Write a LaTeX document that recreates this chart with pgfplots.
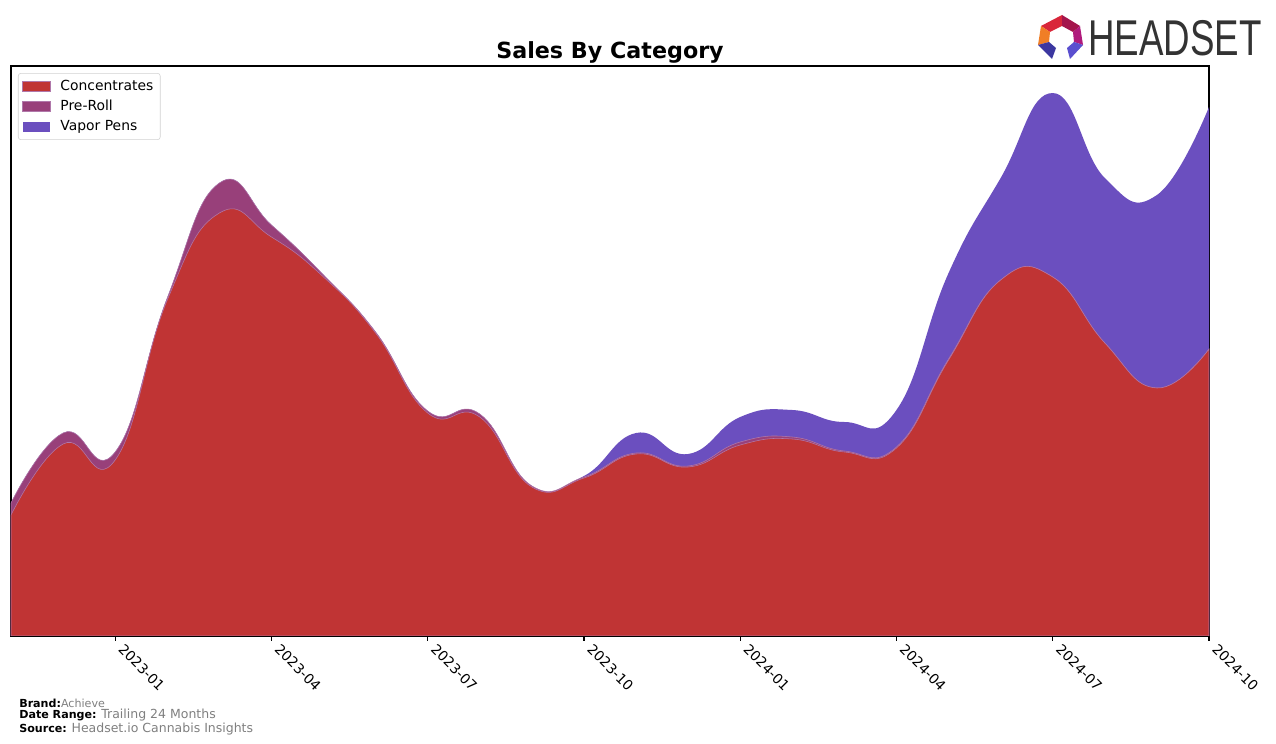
\documentclass[border=0pt]{standalone}
\usepackage{pgfplots}
\pgfplotsset{compat=1.18}
\usepackage{pgfplotstable}
\usepackage{fontspec}
\setmainfont{DejaVu Sans}
\newfontfamily\logofont{Liberation Sans}
\definecolor{conc}{RGB}{192,52,52}
\definecolor{preroll}{RGB}{152,64,122}
\definecolor{vapor}{RGB}{107,79,191}
\definecolor{edgec}{RGB}{176,120,170}
\definecolor{footgray}{RGB}{128,128,128}
\definecolor{logogray}{RGB}{51,51,51}
\definecolor{lgred}{RGB}{217,38,58}
\definecolor{lgcrim}{RGB}{164,21,76}
\definecolor{lgorange}{RGB}{240,126,38}
\definecolor{lgmag}{RGB}{176,26,124}
\definecolor{lgblue}{RGB}{60,55,160}
\definecolor{lgblue2}{RGB}{90,79,207}

\pgfplotstableread{
m c p v
0 121 12 0
1 192 11 0
2 176 8 0
3 336 2 0
4 423 30 0
5 399 12 0
6 359 2 0
7 303 1 0
8 223 2 0
9 219 3 0
10 149 1 0
11 158 1 1
12 182 1 20
13 169 1 12
14 191 3 25
15 197 2 27
16 184 1 29
17 188 1 37
18 276 1 86
19 356 0 102
20 359 0 184
21 293 0 165
22 248 0 193
23 287 0 242
}\salesdata

\begin{document}
\begin{tikzpicture}
\useasboundingbox (0,0) rectangle (918.72pt,535.68pt);
\fill[white] (0,0) rectangle (918.72pt,535.68pt);
\begin{axis}[
  at={(7.92pt,77.76pt)}, anchor=south west,
  width=862.56pt, height=410.4pt, scale only axis,
  xmin=0, xmax=23, ymin=0, ymax=570,
  xtick={2,5,8,11,14,17,20,23},
  xticklabels={2023-01,2023-04,2023-07,2023-10,2024-01,2024-04,2024-07,2024-10},
  xtick pos=bottom, ytick=\empty, tick align=outside, major tick length=3.5pt,
  xticklabel style={xshift=7pt, rotate=-45, anchor=north west, font=\fontsize{10}{12}\selectfont, inner sep=1pt},
  axis line style={line width=0.8pt},
  every tick/.style={line width=0.8pt, black},
  legend style={at={(0.0058,0.9877)}, anchor=north west, draw=black!18, rounded corners=2pt,
    font=\fontsize{10}{12}\selectfont, row sep=1.5pt, inner sep=3pt},
  legend cell align=left,
  reverse legend,
  legend image code/.code={\fill[#1, sharp corners] (0pt,-3.6pt) rectangle (20pt,3.6pt); \path (25pt,0pt);},
  smooth, tension=0.8,
]
\addplot[fill=vapor, draw=none] table[x=m, y expr=\thisrow{c}+\thisrow{p}+\thisrow{v}] {\salesdata} \closedcycle;
\addlegendentry{Vapor Pens}
\addplot[fill=preroll, draw=edgec, line width=0.4pt] table[x=m, y expr=\thisrow{c}+\thisrow{p}] {\salesdata} \closedcycle;
\addlegendentry{Pre-Roll}
\addplot[fill=conc, draw=edgec, line width=0.4pt] table[x=m, y=c] {\salesdata} \closedcycle;
\addlegendentry{Concentrates}
\end{axis}
% title
\node[anchor=base, font=\fontsize{16}{19}\selectfont\bfseries] at (439.2pt,493.5pt) {Sales By Category};
% footer
\node[anchor=base west, inner sep=0pt, font=\fontsize{8}{9}\selectfont] at (13.7pt,26.6pt) {\textbf{Brand:}\textcolor{footgray}{Achieve}};
\node[anchor=base west, inner sep=0pt, font=\fontsize{8}{9}\selectfont] at (13.7pt,18.0pt) {\textbf{Date Range:} \textcolor{footgray}{\fontsize{9}{10}\selectfont Trailing 24 Months}};
\node[anchor=base west, inner sep=0pt, font=\fontsize{8}{9}\selectfont] at (13.7pt,8.6pt) {\textbf{Source:} \textcolor{footgray}{\fontsize{9}{10}\selectfont Headset.io Cannabis Insights}};
% logo
\node[anchor=base west, inner sep=0pt, text=logogray] at (783.5pt,495.4pt) {\scalebox{0.73}[1]{\logofont\fontsize{36.2pt}{36pt}\selectfont HEADSET}};
\begin{scope}[x=0.72pt, y=-0.72pt, shift={(0pt,535.68pt)}]
\fill[lgred] (1062,15) -- (1041,26) -- (1050,32) -- (1062,26) -- cycle;
\fill[lgcrim] (1062,15) -- (1080,26) -- (1073,32) -- (1062,26) -- cycle;
\fill[lgorange] (1041,26) -- (1038,45) -- (1049,42) -- (1050,32) -- cycle;
\fill[lgmag] (1080,26) -- (1083,45) -- (1074,42) -- (1073,32) -- cycle;
\fill[lgblue] (1038,45) -- (1052,59) -- (1056,48) -- (1049,42) -- cycle;
\fill[lgblue2] (1083,45) -- (1070,59) -- (1067,48) -- (1074,42) -- cycle;
\end{scope}
\end{tikzpicture}
\end{document}
